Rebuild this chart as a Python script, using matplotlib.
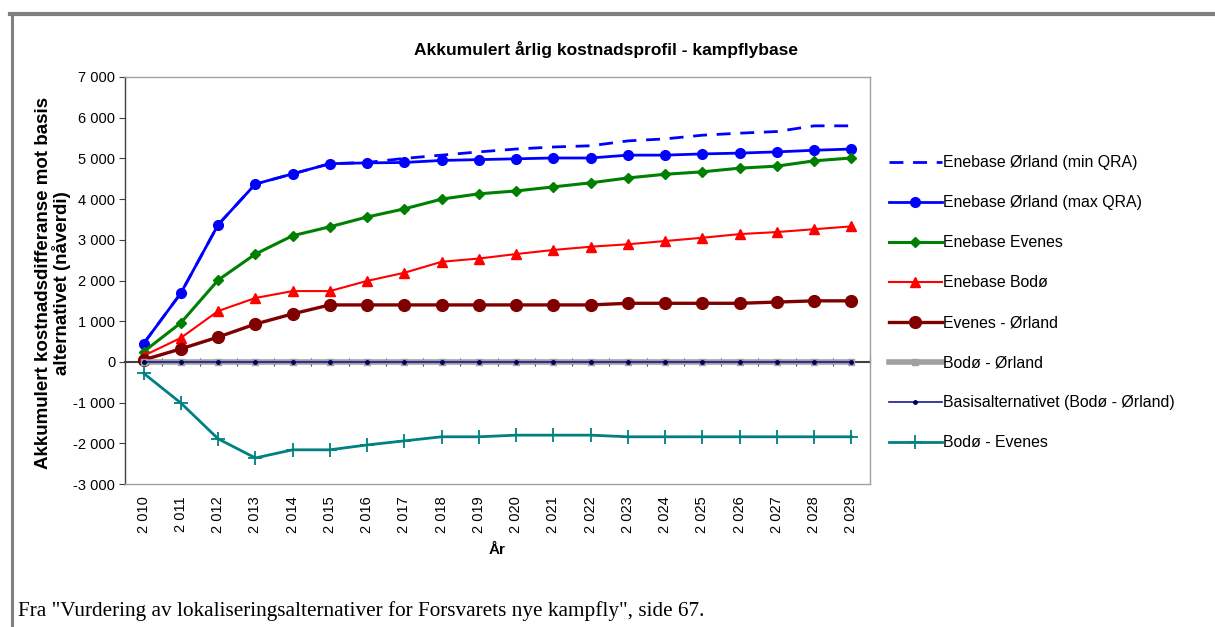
import numpy as np
import matplotlib
matplotlib.use("Agg")
import matplotlib.pyplot as plt
from matplotlib.ticker import FuncFormatter

# ------------------ data ------------------
years = list(range(2010, 2030))

orland_min_qra = [450, 1690, 3370, 4370, 4620, 4870, 4900, 5000, 5080, 5160,
                  5230, 5280, 5310, 5430, 5480, 5570, 5620, 5660, 5800, 5800]
orland_max_qra = [450, 1690, 3370, 4370, 4620, 4870, 4890, 4900, 4950, 4970,
                  4990, 5010, 5010, 5080, 5080, 5110, 5130, 5160, 5200, 5230]
enebase_evenes = [250, 960, 2010, 2650, 3100, 3320, 3560, 3760, 4000, 4130,
                  4200, 4300, 4400, 4520, 4610, 4670, 4760, 4810, 4940, 5010]
enebase_bodo = [150, 590, 1250, 1570, 1740, 1740, 1990, 2190, 2460, 2540,
                2650, 2750, 2830, 2890, 2970, 3050, 3140, 3190, 3260, 3330]
evenes_orland = [50, 320, 610, 930, 1180, 1400, 1400, 1400, 1400, 1400,
                 1400, 1400, 1400, 1440, 1440, 1440, 1440, 1470, 1500, 1500]
bodo_orland = [0] * 20
basis = [0] * 20
bodo_evenes = [-280, -1010, -1890, -2360, -2160, -2160, -2040, -1940, -1840, -1840,
               -1800, -1800, -1800, -1840, -1840, -1840, -1840, -1840, -1840, -1840]

labels = ["Enebase Ørland (min QRA)", "Enebase Ørland (max QRA)", "Enebase Evenes",
          "Enebase Bodø", "Evenes - Ørland", "Bodø - Ørland",
          "Basisalternativet (Bodø - Ørland)", "Bodø - Evenes"]
# -------------------------------------------

plt.rcParams['font.family'] = ['Liberation Sans', 'DejaVu Sans']

fig = plt.figure(figsize=(12.15, 6.27), dpi=100)
ax = fig.add_axes([125 / 1215, 1 - 484 / 627, 745 / 1215, 407 / 627])

x = np.arange(len(years))

ax.plot(x, orland_min_qra, color="#0000ff", lw=2, ls=(0, (5, 3.5)), label=labels[0], zorder=3)
ax.plot(x, orland_max_qra, color="#0000ff", lw=2, marker="o", ms=7, label=labels[1], zorder=4)
ax.plot(x, enebase_evenes, color="#008000", lw=2.2, marker="D", ms=5.5, label=labels[2], zorder=4)
ax.plot(x, enebase_bodo, color="#ff0000", lw=1.5, marker="^", ms=7, label=labels[3], zorder=4)
ax.plot(x, evenes_orland, color="#800000", lw=2.4, marker="o", ms=8.5, label=labels[4], zorder=4)
ax.plot(x, bodo_orland, color="#a0a0a0", lw=4, marker="s", ms=5, label=labels[5], zorder=4)
ax.plot(x, basis, color="#1a1a8c", lw=1.2, marker="o", ms=2.5, mfc="#000060", mec="#000060",
        label=labels[6], zorder=5)
ax.plot(x, bodo_evenes, color="#008080", lw=2, marker="+", ms=10, mew=1.3, label=labels[7], zorder=4)

ax.set_xlim(-0.5, len(years) - 0.5)
ax.set_ylim(-3000, 7000)
ax.set_yticks(np.arange(-3000, 7001, 1000))
ax.yaxis.set_major_formatter(FuncFormatter(lambda v, p: f"{int(v):,}".replace(",", " ")))
ax.tick_params(axis="y", labelsize=10.5, length=4, color="#404040", pad=3)

ax.set_xticks(x)
ax.set_xticklabels([f"{y:,}".replace(",", " ") for y in years], rotation=90, fontsize=10.5)
ax.tick_params(axis="x", length=0, pad=9)

for s in ax.spines.values():
    s.set_color("#a0a0a0")
    s.set_linewidth(1)
ax.spines["left"].set_color("#404040")

# category axis crossing at zero, ticks between categories
sec = ax.secondary_xaxis(0, transform=ax.transData)
sec.set_xticks(np.arange(-0.5, len(years), 1.0))
sec.tick_params(axis="x", direction="inout", length=6, labelbottom=False, color="#404040")
sec.spines["bottom"].set_color("#404040")
sec.spines["bottom"].set_linewidth(1.5)

ax.set_ylabel("Akkumulert kostnadsdifferanse mot basis\nalternativet (nåverdi)",
              fontsize=13.5, fontweight="bold", linespacing=1.05)
ax.yaxis.set_label_coords(-0.072, 0.494)
ax.set_xlabel("År", fontsize=11, fontweight="bold", labelpad=7)

fig.text(606 / 1215, 1 - 50 / 627, "Akkumulert årlig kostnadsprofil - kampflybase",
         fontsize=12.5, fontweight="bold", ha="center", va="center")

leg = fig.legend(loc="upper left", bbox_to_anchor=(883 / 1215, 1 - 149 / 627),
                 frameon=False, fontsize=11.4, labelspacing=1.58, handlelength=3.3,
                 handletextpad=0.1, borderaxespad=0)

fig.text(18 / 1215, 1 - 616 / 627,
         'Fra "Vurdering av lokaliseringsalternativer for Forsvarets nye kampfly", side 67.',
         family="Liberation Serif", fontsize=15.3, va="baseline")

# outer gray frame (top and left)
fig.add_artist(plt.Line2D([10 / 1215, 1], [1 - 14 / 627, 1 - 14 / 627],
                          transform=fig.transFigure, color="#808080", lw=3))
fig.add_artist(plt.Line2D([11.5 / 1215, 11.5 / 1215], [0, 1 - 14 / 627],
                          transform=fig.transFigure, color="#808080", lw=2.2))

fig.savefig("out.png", dpi=100)
